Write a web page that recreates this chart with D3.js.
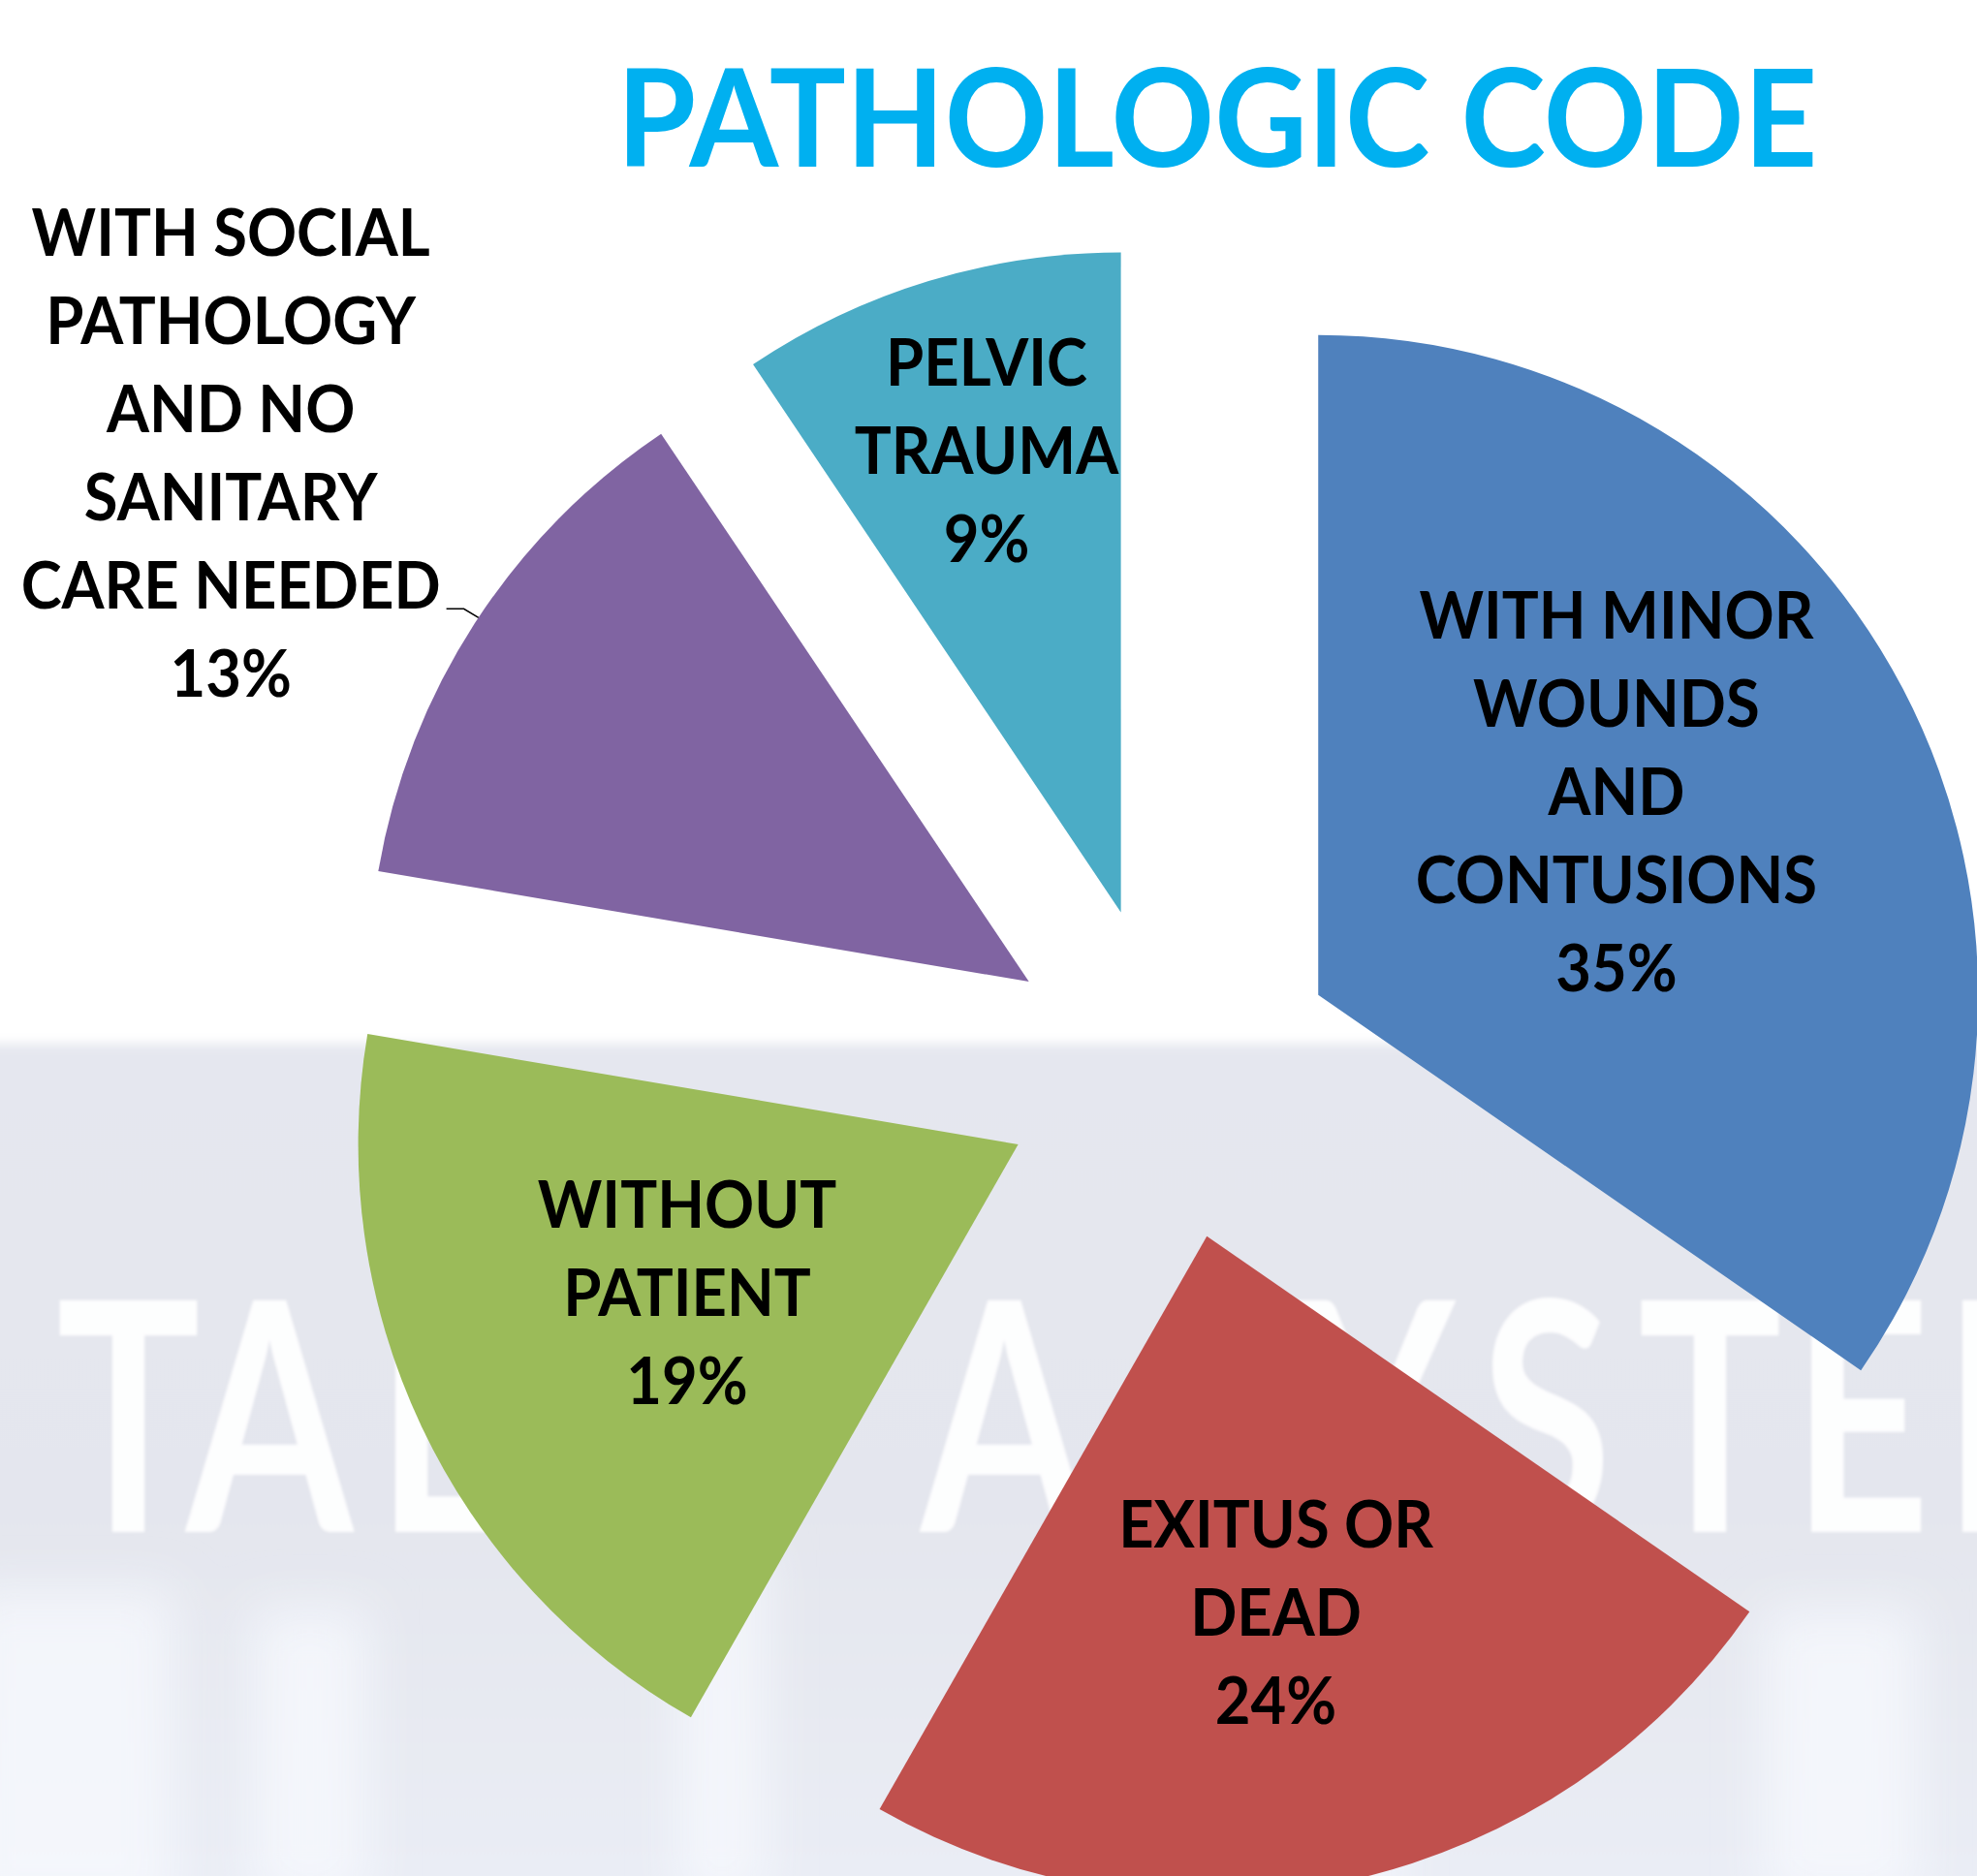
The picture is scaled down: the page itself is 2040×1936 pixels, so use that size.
<!DOCTYPE html>
<html>
<head>
<meta charset="utf-8">
<script src="https://cdn.jsdelivr.net/npm/d3@7"></script>
<style>
  html, body { margin: 0; padding: 0; background: #ffffff; }
  svg { display: block; }
</style>
</head>
<body>
<svg id="chart" width="2040" height="1936"></svg>
<script>
// ---------------- data ----------------
const chartTitle = "PATHOLOGIC CODE";
const categories = [
  "WITH MINOR WOUNDS AND CONTUSIONS",
  "EXITUS OR DEAD",
  "WITHOUT PATIENT",
  "WITH SOCIAL PATHOLOGY AND NO SANITARY CARE NEEDED",
  "PELVIC TRAUMA"
];
const labelLines = [
  ["WITH MINOR", "WOUNDS", "AND", "CONTUSIONS"],
  ["EXITUS OR", "DEAD"],
  ["WITHOUT", "PATIENT"],
  ["WITH SOCIAL", "PATHOLOGY", "AND NO", "SANITARY", "CARE NEEDED"],
  ["PELVIC", "TRAUMA"]
];
const shares = [34.6, 23.6, 19.4, 12.9, 9.4];   // share of cases (%)
const sliceColors = ["#4F81BD", "#C0504D", "#9BBB59", "#8064A2", "#4BACC6"];
const watermarkWords = ["TAL", "A", "SYSTEM"];

// ---------------- layout ----------------
const W = 2040, H = 1936;
const cx = 1207, cy = 1107;      // pie centre
const R = 681;                   // outer radius
const explode = 173;             // explosion offset of every slice
const lineH = 91, capH = 47;     // label line spacing / cap height
const labelFont = 66;
// label position: fraction of radius from slice apex, angle nudge (degrees)
const labelLayout = [
  { rf: 0.546, da: -6.5 },
  { rf: 0.58,  da: 2.4 },
  { rf: 0.55,  da: 1.1 },
  { rf: 1.45,  da: 0.6 },
  { rf: 0.728, da: 0.7 }
];
const outsideLabel = [false, false, false, true, false];
// watermark glyph left edges (background photo lettering)
const wmGlyphX = [[58, 192, 388], [950], [1190, 1340, 1527, 1690, 1849, 2005]];
const wmScale = 0.75;

const svg = d3.select("#chart");
const defs = svg.append("defs");

// ---------------- background ----------------
const bg = defs.append("linearGradient").attr("id", "bgGrad")
  .attr("x1", 0).attr("y1", 0).attr("x2", 0).attr("y2", 1);
bg.append("stop").attr("offset", "0%").attr("stop-color", "#e5e7ef");
bg.append("stop").attr("offset", "55%").attr("stop-color", "#e4e6ee");
bg.append("stop").attr("offset", "100%").attr("stop-color", "#eaedf5");

defs.append("filter").attr("id", "soft").attr("x", "-20%").attr("y", "-20%")
  .attr("width", "140%").attr("height", "140%")
  .append("feGaussianBlur").attr("stdDeviation", 6);
defs.append("filter").attr("id", "softer").attr("x", "-80%").attr("y", "-30%")
  .attr("width", "260%").attr("height", "160%")
  .append("feGaussianBlur").attr("stdDeviation", 26);
defs.append("filter").attr("id", "wmBlur")
  .append("feGaussianBlur").attr("stdDeviation", 1.5);

svg.append("rect").attr("width", W).attr("height", H).attr("fill", "#ffffff");
svg.append("rect").attr("x", -20).attr("y", 1077).attr("width", W + 40).attr("height", H - 1077 + 20)
  .attr("fill", "url(#bgGrad)").attr("filter", "url(#soft)");

// soft light streaks of the blurred photo in the lower area
const streaks = [[-40, 1640, 220, 340], [260, 1660, 120, 300], [700, 1600, 90, 360], [1820, 1660, 160, 300], [1180, 1860, 260, 120]];
svg.append("g").attr("filter", "url(#softer)")
  .selectAll("rect").data(streaks).join("rect")
  .attr("x", d => d[0]).attr("y", d => d[1]).attr("width", d => d[2]).attr("height", d => d[3])
  .attr("fill", "#f7f9fe").attr("opacity", 0.75);

// faded watermark words
const wm = svg.append("g").attr("fill", "#ffffff").attr("opacity", 0.93)
  .attr("filter", "url(#wmBlur)")
  .style("font-family", "Lato, 'Open Sans', sans-serif").style("font-weight", 700)
  .style("font-size", "331px");
wm.selectAll("text").data(watermarkWords).join("text")
  .attr("transform", `scale(${wmScale},1)`)
  .attr("x", (d, i) => wmGlyphX[i].map(v => (v / wmScale).toFixed(1)).join(" "))
  .attr("y", 1581)
  .text(d => d);

// ---------------- pie ----------------
const pie = d3.pie().sort(null).value(d => d);
const arcs = pie(shares);
const total = d3.sum(shares);
const arcGen = d3.arc().innerRadius(0).outerRadius(R);
const dir = a => [Math.sin(a), -Math.cos(a)];

const slices = svg.append("g").selectAll("g").data(arcs).join("g")
  .attr("transform", d => {
    const m = (d.startAngle + d.endAngle) / 2;
    const [ux, uy] = dir(m);
    return `translate(${cx + explode * ux},${cy + explode * uy})`;
  });
slices.append("path")
  .attr("d", arcGen)
  .attr("fill", (d, i) => sliceColors[i]);

// ---------------- title ----------------
const titleText = svg.append("text")
  .attr("x", 1256).attr("y", 172)
  .attr("text-anchor", "middle")
  .style("font-family", "Lato, 'Open Sans', sans-serif")
  .style("font-weight", 700)
  .style("font-size", "140px")
  .attr("fill", "#00B0F0")
  .text(chartTitle);
titleText.attr("textLength", 1239).attr("lengthAdjust", "spacingAndGlyphs");

// ---------------- labels ----------------
const labelG = svg.append("g")
  .style("font-family", "Lato, 'Open Sans', sans-serif")
  .style("font-weight", 700)
  .style("font-size", labelFont + "px")
  .attr("fill", "#000000");

// calibration of glyph width (narrow Calibri-like look)
const probe = labelG.append("text").text("WITH MINOR");
const squeeze = 407 / probe.node().getComputedTextLength();
probe.remove();

arcs.forEach((d, i) => {
  const m = (d.startAngle + d.endAngle) / 2;
  const [ux, uy] = dir(m);
  const ax = cx + explode * ux, ay = cy + explode * uy;   // slice apex
  const la = m + labelLayout[i].da * Math.PI / 180;
  const [lx, ly] = dir(la);
  const px = ax + labelLayout[i].rf * R * lx;
  const py = ay + labelLayout[i].rf * R * ly;
  const lines = labelLines[i].concat([Math.round(d.value / total * 100) + "%"]);
  const n = lines.length;
  const firstBase = py - (n - 1) * lineH / 2 + capH / 2;
  let maxRight = 0;
  lines.forEach((t, k) => {
    const tx = labelG.append("text")
      .attr("x", px).attr("y", firstBase + k * lineH)
      .attr("text-anchor", "middle")
      .text(t);
    const w = tx.node().getComputedTextLength() * squeeze;
    tx.attr("textLength", w).attr("lengthAdjust", "spacingAndGlyphs");
    if (k === n - 2) maxRight = px + w / 2;
  });
  if (outsideLabel[i]) {
    // leader line from label to the slice edge
    const ex = ax + R * lx, ey = ay + R * ly;
    const yLine = firstBase + (n - 2) * lineH;
    const pts = [[maxRight + 6, yLine], [maxRight + 24, yLine], [ex, ey]];
    svg.append("path")
      .attr("d", d3.line()(pts))
      .attr("fill", "none").attr("stroke", "#000").attr("stroke-width", 1.6);
  }
});
</script>
</body>
</html>
